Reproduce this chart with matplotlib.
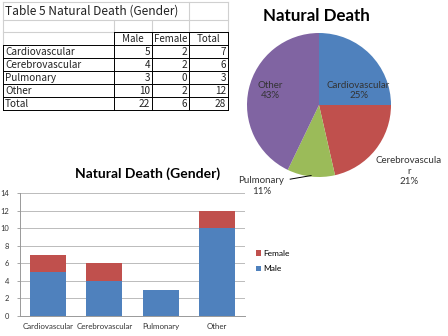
import numpy as np
import matplotlib
matplotlib.use("Agg")
import matplotlib.pyplot as plt

# data
categories = ["Cardiovascular", "Cerebrovascular", "Pulmonary", "Other"]
male = [5, 4, 3, 10]
female = [2, 2, 0, 2]
totals = [m + f for m, f in zip(male, female)]
pie_labels = ["Cardiovascular", "Cerebrovascula\nr", "Pulmonary", "Other"]
table_title = "Table 5 Natural Death (Gender)"
table_header = ["Male", "Female", "Total"]

BLUE = "#4F81BD"
RED = "#C0504D"
GREEN = "#9BBB59"
PURPLE = "#8064A2"
GRID = "#D0D0D0"
FONT = "Lato"
TFONT = ["Noto Sans CJK JP", "DejaVu Sans"]

W, H = 448, 336
fig = plt.figure(figsize=(W / 100, H / 100), dpi=100)

def px_axes(x0, y0, x1, y1):
    # pixel box (top-left origin) -> figure axes
    return fig.add_axes([x0 / W, 1 - y1 / H, (x1 - x0) / W, (y1 - y0) / H])

# ---------------- table ----------------
tax = fig.add_axes([0, 0, 1, 1])
tax.set_xlim(0, W)
tax.set_ylim(H, 0)
tax.axis("off")

cols = [3, 114, 152, 189, 228]
rows = [32, 45, 58, 71, 84, 97, 110]
# light spreadsheet grid in the upper rows
for y in [2, 20, 32]:
    tax.plot([cols[0], cols[-1]], [y, y], color=GRID, lw=0.8)
tax.plot([cols[3], cols[3]], [2, 32], color=GRID, lw=0.8)
tax.plot([cols[4], cols[4]], [2, 32], color=GRID, lw=0.8)
for x in cols[1:3]:
    tax.plot([x, x], [20, 32], color=GRID, lw=0.8)
tax.plot([cols[0], cols[0]], [2, 45], color=GRID, lw=0.8)
tax.text(5, 11.5, table_title, family=TFONT, fontsize=8.6, va="center", ha="left", color="#222222")

# black borders
k = dict(color="black", lw=0.7)
tax.plot([cols[1], cols[-1]], [rows[0], rows[0]], **k)
for x in cols[1:]:
    tax.plot([x, x], [rows[0], rows[-1]], **k)
tax.plot([cols[0], cols[0]], [rows[1], rows[-1]], **k)
for y in rows[1:]:
    tax.plot([cols[0], cols[-1]], [y, y], **k)

for j, h in enumerate(table_header):
    tax.text((cols[j + 1] + cols[j + 2]) / 2, (rows[0] + rows[1]) / 2 + 0.5, h,
             family=TFONT, fontsize=7.0, ha="center", va="center", color="#222222")

body = [[c, m, f, t] for c, m, f, t in zip(categories, male, female, totals)]
body.append(["Total", sum(male), sum(female), sum(totals)])
for i, r in enumerate(body):
    yc = (rows[i + 1] + rows[i + 2]) / 2 + 0.5
    tax.text(5, yc, r[0], family=TFONT, fontsize=7.2, ha="left", va="center", color="#222222")
    for j, v in enumerate(r[1:]):
        tax.text(cols[j + 2] - 2, yc, str(v), family=TFONT, fontsize=7.2,
                 ha="right", va="center", color="#222222")

# ---------------- pie ----------------
pax = px_axes(247, 33, 391, 177)
wedges, _ = pax.pie(totals, colors=[BLUE, RED, GREEN, PURPLE], startangle=90,
                    counterclock=False, radius=1)
pax.set_xlim(-1, 1)
pax.set_ylim(-1, 1)
pax.set_aspect("equal")
pct = [f"{round(100 * t / sum(totals))}%" for t in totals]
label_pos = [(0.55, 0.2), (1.25, -0.92), (-0.80, -1.12), (-0.68, 0.2)]
for lab, p, (lx, ly) in zip(pie_labels, pct, label_pos):
    pax.text(lx, ly, lab + "\n" + p, ha="center", va="center", fontsize=7.0,
             family=FONT, color="#333333", linespacing=1.25, clip_on=False)
pax.plot([-0.11, -0.40], [-0.98, -1.03], color="black", lw=0.7, clip_on=False)
fig.text(316 / W, 1 - 16 / H, "Natural Death", ha="center", va="center",
         fontsize=12.2, fontweight="bold", family=FONT)

# ---------------- stacked bars ----------------
bax = px_axes(20, 193, 245, 316)
x = np.arange(len(categories))
b1 = bax.bar(x, male, width=0.64, color=BLUE, label="Male", zorder=3)
b2 = bax.bar(x, female, width=0.64, bottom=male, color=RED, label="Female", zorder=3)
bax.set_xlim(-0.5, len(categories) - 0.5)
bax.set_ylim(0, 14)
bax.set_yticks(range(0, 15, 2))
bax.set_xticks(x)
bax.set_xticklabels(categories)
bax.grid(axis="y", color="#BBBBBB", lw=0.7, zorder=0)
for s in ["top", "right"]:
    bax.spines[s].set_visible(False)
for s in ["left", "bottom"]:
    bax.spines[s].set_color("#999999")
    bax.spines[s].set_linewidth(0.7)
bax.tick_params(axis="y", labelsize=5.4, length=2, width=0.6, color="#999999", pad=6)
bax.tick_params(axis="x", labelsize=5.7, length=0, pad=5)
for t in bax.get_xticklabels() + bax.get_yticklabels():
    t.set_family(FONT)
    t.set_color("#333333")
bax.legend([b2, b1], ["Female", "Male"], loc="center left", frameon=False,
           bbox_to_anchor=(252 / W, 1 - 261 / H), bbox_transform=fig.transFigure,
           prop={"family": FONT, "size": 6.0}, handlelength=0.6, handleheight=0.6,
           handletextpad=0.3, labelspacing=1.0, borderpad=0)
fig.text(148 / W, 1 - 174 / H, "Natural Death (Gender)", ha="center", va="center",
         fontsize=10, fontweight="bold", family=FONT)

fig.savefig("out.png", dpi=100)
